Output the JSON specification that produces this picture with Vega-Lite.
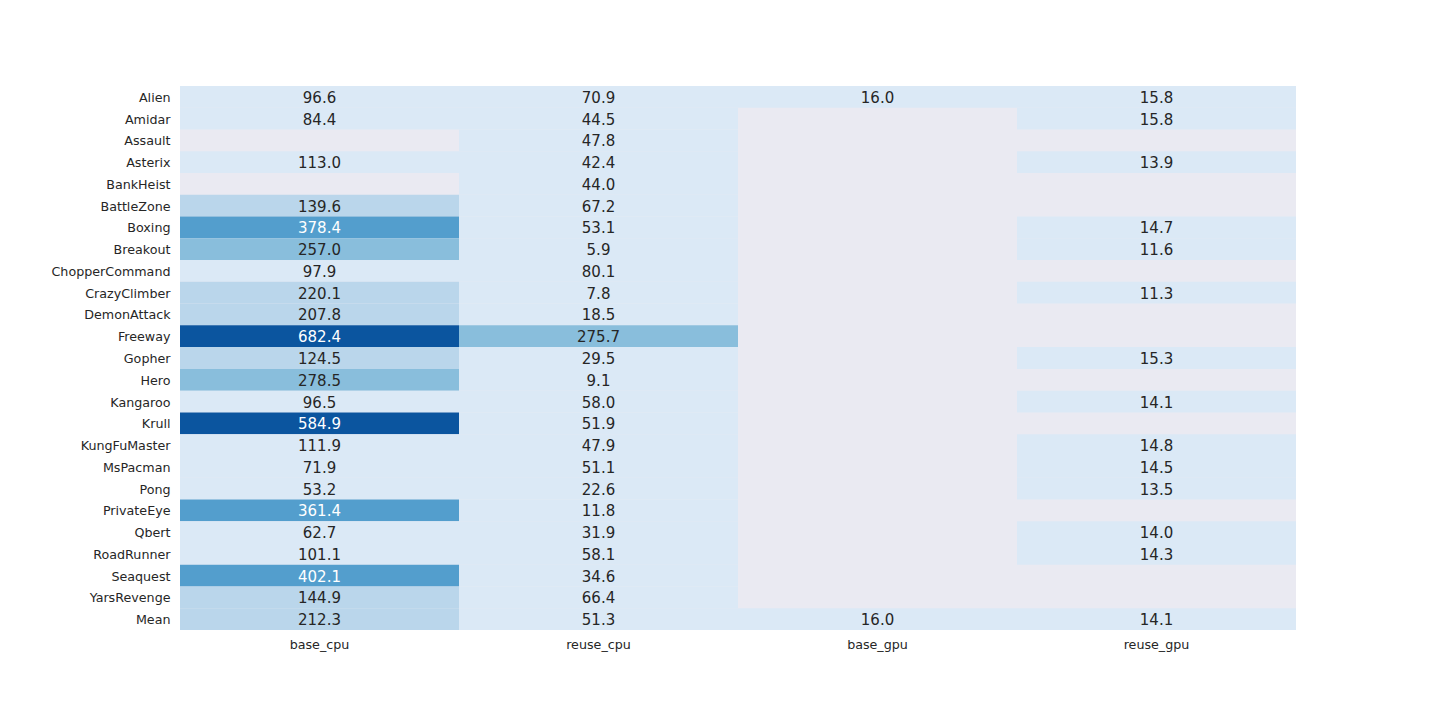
{
  "$schema": "https://vega.github.io/schema/vega-lite/v6.json",
  "autosize": "none",
  "width": 1116,
  "height": 544,
  "padding": {"left": 180, "top": 86, "right": 144, "bottom": 90},
  "background": "white",
  "config": {
    "view": {"fill": "#EAEAF2", "stroke": null},
    "font": "DejaVu Sans"
  },
  "data": {
    "values": [
      {"game": "Alien", "col": "base_cpu", "value": 96.6},
      {"game": "Alien", "col": "reuse_cpu", "value": 70.9},
      {"game": "Alien", "col": "base_gpu", "value": 16.0},
      {"game": "Alien", "col": "reuse_gpu", "value": 15.8},
      {"game": "Amidar", "col": "base_cpu", "value": 84.4},
      {"game": "Amidar", "col": "reuse_cpu", "value": 44.5},
      {"game": "Amidar", "col": "reuse_gpu", "value": 15.8},
      {"game": "Assault", "col": "reuse_cpu", "value": 47.8},
      {"game": "Asterix", "col": "base_cpu", "value": 113.0},
      {"game": "Asterix", "col": "reuse_cpu", "value": 42.4},
      {"game": "Asterix", "col": "reuse_gpu", "value": 13.9},
      {"game": "BankHeist", "col": "reuse_cpu", "value": 44.0},
      {"game": "BattleZone", "col": "base_cpu", "value": 139.6},
      {"game": "BattleZone", "col": "reuse_cpu", "value": 67.2},
      {"game": "Boxing", "col": "base_cpu", "value": 378.4},
      {"game": "Boxing", "col": "reuse_cpu", "value": 53.1},
      {"game": "Boxing", "col": "reuse_gpu", "value": 14.7},
      {"game": "Breakout", "col": "base_cpu", "value": 257.0},
      {"game": "Breakout", "col": "reuse_cpu", "value": 5.9},
      {"game": "Breakout", "col": "reuse_gpu", "value": 11.6},
      {"game": "ChopperCommand", "col": "base_cpu", "value": 97.9},
      {"game": "ChopperCommand", "col": "reuse_cpu", "value": 80.1},
      {"game": "CrazyClimber", "col": "base_cpu", "value": 220.1},
      {"game": "CrazyClimber", "col": "reuse_cpu", "value": 7.8},
      {"game": "CrazyClimber", "col": "reuse_gpu", "value": 11.3},
      {"game": "DemonAttack", "col": "base_cpu", "value": 207.8},
      {"game": "DemonAttack", "col": "reuse_cpu", "value": 18.5},
      {"game": "Freeway", "col": "base_cpu", "value": 682.4},
      {"game": "Freeway", "col": "reuse_cpu", "value": 275.7},
      {"game": "Gopher", "col": "base_cpu", "value": 124.5},
      {"game": "Gopher", "col": "reuse_cpu", "value": 29.5},
      {"game": "Gopher", "col": "reuse_gpu", "value": 15.3},
      {"game": "Hero", "col": "base_cpu", "value": 278.5},
      {"game": "Hero", "col": "reuse_cpu", "value": 9.1},
      {"game": "Kangaroo", "col": "base_cpu", "value": 96.5},
      {"game": "Kangaroo", "col": "reuse_cpu", "value": 58.0},
      {"game": "Kangaroo", "col": "reuse_gpu", "value": 14.1},
      {"game": "Krull", "col": "base_cpu", "value": 584.9},
      {"game": "Krull", "col": "reuse_cpu", "value": 51.9},
      {"game": "KungFuMaster", "col": "base_cpu", "value": 111.9},
      {"game": "KungFuMaster", "col": "reuse_cpu", "value": 47.9},
      {"game": "KungFuMaster", "col": "reuse_gpu", "value": 14.8},
      {"game": "MsPacman", "col": "base_cpu", "value": 71.9},
      {"game": "MsPacman", "col": "reuse_cpu", "value": 51.1},
      {"game": "MsPacman", "col": "reuse_gpu", "value": 14.5},
      {"game": "Pong", "col": "base_cpu", "value": 53.2},
      {"game": "Pong", "col": "reuse_cpu", "value": 22.6},
      {"game": "Pong", "col": "reuse_gpu", "value": 13.5},
      {"game": "PrivateEye", "col": "base_cpu", "value": 361.4},
      {"game": "PrivateEye", "col": "reuse_cpu", "value": 11.8},
      {"game": "Qbert", "col": "base_cpu", "value": 62.7},
      {"game": "Qbert", "col": "reuse_cpu", "value": 31.9},
      {"game": "Qbert", "col": "reuse_gpu", "value": 14.0},
      {"game": "RoadRunner", "col": "base_cpu", "value": 101.1},
      {"game": "RoadRunner", "col": "reuse_cpu", "value": 58.1},
      {"game": "RoadRunner", "col": "reuse_gpu", "value": 14.3},
      {"game": "Seaquest", "col": "base_cpu", "value": 402.1},
      {"game": "Seaquest", "col": "reuse_cpu", "value": 34.6},
      {"game": "YarsRevenge", "col": "base_cpu", "value": 144.9},
      {"game": "YarsRevenge", "col": "reuse_cpu", "value": 66.4},
      {"game": "Mean", "col": "base_cpu", "value": 212.3},
      {"game": "Mean", "col": "reuse_cpu", "value": 51.3},
      {"game": "Mean", "col": "base_gpu", "value": 16.0},
      {"game": "Mean", "col": "reuse_gpu", "value": 14.1}
    ]
  },
  "encoding": {
    "x": {
      "field": "col", "type": "nominal",
      "scale": {"domain": ["base_cpu", "reuse_cpu", "base_gpu", "reuse_gpu"], "paddingInner": 0, "paddingOuter": 0},
      "axis": {"title": null, "labelAngle": 0, "ticks": false, "domain": false, "labelPadding": 8, "labelFontSize": 12.7, "labelColor": "#262626", "labelFont": "DejaVu Sans"}
    },
    "y": {
      "field": "game", "type": "nominal",
      "scale": {"domain": ["Alien", "Amidar", "Assault", "Asterix", "BankHeist", "BattleZone", "Boxing", "Breakout", "ChopperCommand", "CrazyClimber", "DemonAttack", "Freeway", "Gopher", "Hero", "Kangaroo", "Krull", "KungFuMaster", "MsPacman", "Pong", "PrivateEye", "Qbert", "RoadRunner", "Seaquest", "YarsRevenge", "Mean"], "paddingInner": 0, "paddingOuter": 0},
      "axis": {"title": null, "ticks": false, "domain": false, "labelPadding": 10, "labelOffset": 1, "labelFontSize": 12.7, "labelColor": "#262626", "labelFont": "DejaVu Sans"}
    }
  },
  "layer": [
    {
      "mark": {"type": "rect"},
      "encoding": {
        "color": {
          "field": "value", "type": "quantitative",
          "scale": {"type": "quantize", "domain": [5.9, 682.4], "nice": false, "range": ["#dbe9f6", "#bad6eb", "#89bedc", "#539ecd", "#2b7bba", "#0b559f"]},
          "legend": null
        }
      }
    },
    {
      "mark": {"type": "text", "fontSize": 15, "font": "DejaVu Sans", "baseline": "middle", "align": "center", "dy": 1},
      "encoding": {
        "text": {"field": "value", "type": "quantitative", "format": ".1f"},
        "color": {
          "condition": {"test": "datum.value > 344", "value": "#ffffff"},
          "value": "#262626"
        }
      }
    }
  ]
}
